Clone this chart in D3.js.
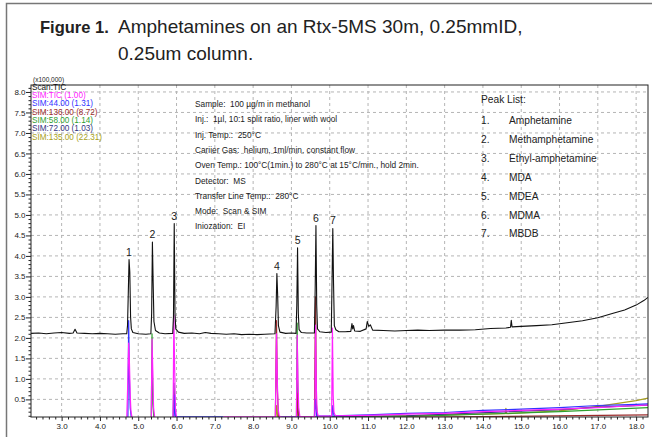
<!DOCTYPE html>
<html>
<head>
<meta charset="utf-8">
<script src="https://cdn.jsdelivr.net/npm/d3@7"></script>
<style>
  body { margin: 0; background: #fff; }
  svg { display: block; font-family: "Liberation Sans", Arial, sans-serif; }
</style>
</head>
<body>
<svg class="chromatogram" width="652" height="437"></svg>
<script>
// retention time (min) / intensity (x100,000)
const scanTic = [
  [2.20, 2.11], [2.40, 2.12], [2.60, 2.10], [2.80, 2.12], [3.00, 2.13], [3.20, 2.11],
  [3.30, 2.12], [3.35, 2.21], [3.40, 2.12], [3.60, 2.11], [3.80, 2.10], [4.00, 2.11],
  [4.20, 2.10], [4.40, 2.09], [4.60, 2.10], [4.70, 2.10], [4.72, 2.30], [4.74, 3.08],
  [4.76, 3.91], [4.78, 3.60], [4.80, 2.51], [4.82, 2.22], [4.86, 2.13], [5.00, 2.10],
  [5.20, 2.09], [5.33, 2.10], [5.35, 2.60], [5.37, 4.34], [5.39, 3.33], [5.41, 2.40],
  [5.45, 2.18], [5.55, 2.12], [5.70, 2.10], [5.90, 2.11], [5.92, 2.52], [5.94, 4.79],
  [5.96, 2.60], [5.98, 2.22], [6.05, 2.14], [6.20, 2.11], [6.40, 2.12], [6.60, 2.10],
  [6.75, 2.13], [6.90, 2.11], [7.10, 2.10], [7.30, 2.09], [7.50, 2.10], [7.70, 2.08],
  [7.90, 2.09], [8.10, 2.08], [8.30, 2.09], [8.57, 2.10], [8.60, 2.76], [8.62, 3.57],
  [8.64, 3.05], [8.66, 2.30], [8.70, 2.14], [8.85, 2.11], [9.00, 2.12], [9.12, 2.11],
  [9.14, 2.80], [9.16, 4.20], [9.18, 2.60], [9.20, 2.20], [9.26, 2.13], [9.40, 2.12],
  [9.60, 2.12], [9.62, 3.20], [9.64, 4.74], [9.66, 2.80], [9.68, 2.22], [9.74, 2.15],
  [9.90, 2.13], [10.04, 2.14], [10.06, 3.36], [10.08, 4.67], [10.10, 3.30], [10.12, 2.30],
  [10.16, 2.20], [10.24, 2.15], [10.40, 2.15], [10.55, 2.16], [10.58, 2.35], [10.60, 2.22],
  [10.62, 2.30], [10.65, 2.17], [10.80, 2.16], [10.95, 2.22], [10.98, 2.40], [11.02, 2.28],
  [11.06, 2.32], [11.12, 2.19], [11.40, 2.18], [11.70, 2.17], [12.00, 2.18], [12.30, 2.19],
  [12.60, 2.18], [13.00, 2.19], [13.40, 2.19], [13.80, 2.20], [14.20, 2.23], [14.60, 2.24],
  [14.72, 2.26], [14.74, 2.43], [14.76, 2.27], [15.00, 2.28], [15.40, 2.30], [15.80, 2.32],
  [16.20, 2.37], [16.60, 2.42], [17.00, 2.49], [17.40, 2.60], [17.70, 2.68], [18.00, 2.80],
  [18.20, 2.91], [18.31, 2.99]
];

const simTic = [
  [2.20, 0.05], [4.70, 0.05], [4.73, 1.00], [4.75, 1.87], [4.77, 1.40], [4.79, 0.60],
  [4.81, 0.20], [4.84, 0.05], [5.34, 0.05], [5.36, 1.97], [5.38, 1.20], [5.40, 0.30],
  [5.43, 0.05], [5.91, 0.05], [5.93, 2.56], [5.95, 1.30], [5.97, 0.30], [6.00, 0.05],
  [7.20, 0.05], [7.25, 0.075], [8.58, 0.075], [8.61, 2.10], [8.63, 1.00], [8.65, 0.30],
  [8.68, 0.10], [8.72, 0.07], [9.13, 0.07], [9.15, 2.07], [9.17, 1.00], [9.19, 0.30],
  [9.22, 0.08], [9.61, 0.08], [9.63, 2.31], [9.65, 0.80], [9.67, 0.20], [9.70, 0.09],
  [10.05, 0.09], [10.07, 2.24], [10.09, 0.60], [10.11, 0.18], [10.15, 0.10], [11.00, 0.11],
  [12.00, 0.14], [13.00, 0.16], [14.00, 0.20], [15.00, 0.23], [16.00, 0.26], [17.00, 0.30],
  [18.00, 0.35], [18.31, 0.36]
];

const sim44 = [
  [2.20, 0.04], [4.73, 0.04], [4.75, 2.42], [4.77, 1.00], [4.79, 0.30], [4.82, 0.04],
  [5.93, 0.04], [5.95, 0.60], [5.97, 0.10], [6.00, 0.075], [7.20, 0.075], [7.25, 0.05],
  [8.70, 0.05], [8.75, 0.075], [9.60, 0.08], [9.63, 0.50], [9.66, 0.09], [10.06, 0.09],
  [10.08, 0.35], [10.11, 0.10], [11.00, 0.12], [12.00, 0.16], [13.00, 0.18], [14.00, 0.23],
  [15.00, 0.26], [16.00, 0.30], [17.00, 0.35], [18.00, 0.38], [18.31, 0.39]
];

const sim136 = [
  [2.20, 0.03], [8.58, 0.03], [8.61, 2.42], [8.63, 0.80], [8.66, 0.10], [8.70, 0.03],
  [9.14, 0.03], [9.16, 0.65], [9.18, 0.10], [9.21, 0.03], [9.60, 0.03], [9.63, 3.00],
  [9.65, 0.40], [9.68, 0.03], [12.00, 0.06], [18.31, 0.12]
];

const sim58 = [
  [2.20, 0.03], [5.34, 0.03], [5.36, 2.10], [5.38, 0.40], [5.41, 0.03], [9.13, 0.03],
  [9.15, 2.36], [9.17, 0.30], [9.20, 0.03], [12.00, 0.08], [16.00, 0.20], [18.31, 0.30]
];

const sim72 = [
  [2.20, 0.03], [5.91, 0.03], [5.93, 0.90], [5.95, 0.30], [5.98, 0.03], [12.00, 0.10],
  [16.00, 0.25], [17.00, 0.31], [18.31, 0.36]
];

const sim135 = [
  [2.20, 0.03], [8.59, 0.03], [8.61, 0.35], [8.64, 0.05], [11.00, 0.08], [12.00, 0.10],
  [13.00, 0.12], [14.00, 0.14], [14.58, 0.15], [14.60, 0.28], [14.62, 0.15], [15.00, 0.17],
  [16.00, 0.22], [17.00, 0.33], [18.00, 0.47], [18.31, 0.53]
];

const traceNames = ['Scan:TIC', 'SIM:TIC (1.00)', 'SIM:44.00 (1.31)', 'SIM:136.00 (8.72)',
  'SIM:58.00 (1.14)', 'SIM:72.00 (1.03)', 'SIM:135.00 (22.31)'];
const traceColors = ['#111111', '#ff22ff', '#3333ff', '#9b2c2c', '#2fa02f', '#33337f', '#a8a020'];

const peakTimes = [4.76, 5.37, 5.94, 8.62, 9.16, 9.64, 10.08];
const peakNames = ['Amphetamine', 'Methamphetamine', 'Ethyl-amphetamine', 'MDA', 'MDEA', 'MDMA', 'MBDB'];

const conditions = [
  'Sample:  100 \u00b5g/m in methanol',
  'Inj.:  1\u00b5l, 10:1 split ratio, liner with wool',
  'Inj. Temp.:  250\u00b0C',
  'Cariier Gas:  helium, 1ml/min. constant flow',
  'Oven Temp.: 100\u00b0C(1min.) to 280\u00b0C at 15\u00b0C/min., hold 2min.',
  'Detector:  MS',
  'Transfer Line Temp.:  280\u00b0C',
  'Mode:  Scan & SIM',
  'Iniozation:  EI'
];

const xTicks = d3.range(3, 19, 1);
const yTicks = d3.range(1, 17).map(k => k / 2);

const svg = d3.select('.chromatogram');
const margin = { top: 85, right: 4, bottom: 20, left: 31 };
const width = +svg.attr('width');
const height = +svg.attr('height');
const innerWidth = width - margin.left - margin.right;
const innerHeight = height - margin.top - margin.bottom;

// page frame (top and left edges only, like the scan)
svg.append('path')
  .attr('d', 'M6.5,437 V3.5 H652')
  .attr('fill', 'none')
  .attr('stroke', '#777')
  .attr('stroke-width', 1.5);

svg.append('text')
  .attr('x', 40).attr('y', 33)
  .style('font-size', '16.5px').style('font-weight', 'bold').attr('fill', '#222')
  .text('Figure 1.');
svg.append('text')
  .attr('x', 118).attr('y', 33)
  .style('font-size', '19px').attr('fill', '#222')
  .text('Amphetamines on an Rtx-5MS 30m, 0.25mmID,');
svg.append('text')
  .attr('x', 118).attr('y', 60)
  .style('font-size', '19px').attr('fill', '#222')
  .text('0.25um column.');

const xScale = d3.scaleLinear().domain([2.2, 18.31]).range([0, innerWidth]);
const yScale = d3.scaleLinear().domain([0.07, 8.17]).range([innerHeight, 0]);

const g = svg.append('g')
  .attr('transform', `translate(${margin.left}, ${margin.top})`);

g.append('text')
  .attr('x', 2).attr('y', -3)
  .style('font-size', '6.5px').attr('fill', '#222')
  .text('(x100,000)');

// dashed grid
g.append('g')
  .selectAll('line')
  .data(xTicks)
  .join('line')
  .attr('x1', d => xScale(d)).attr('x2', d => xScale(d))
  .attr('y1', 0).attr('y2', innerHeight)
  .attr('stroke', '#b5b5b5').attr('stroke-dasharray', '3,3');

g.append('g')
  .selectAll('line')
  .data(yTicks)
  .join('line')
  .attr('y1', d => yScale(d)).attr('y2', d => yScale(d))
  .attr('x1', 0).attr('x2', innerWidth)
  .attr('stroke', '#b5b5b5').attr('stroke-dasharray', '3,3');

g.append('clipPath').attr('id', 'plotClip')
  .append('rect').attr('width', innerWidth).attr('height', innerHeight);

const line = d3.line()
  .x(d => xScale(d[0]))
  .y(d => yScale(d[1]));

const traces = [scanTic, simTic, sim44, sim136, sim58, sim72, sim135];
// SIM traces first, scan TIC on top
const drawOrder = [6, 5, 4, 3, 2, 1, 0];

g.append('g')
  .attr('clip-path', 'url(#plotClip)')
  .selectAll('path')
  .data(drawOrder)
  .join('path')
  .attr('d', i => line(traces[i]))
  .attr('fill', 'none')
  .attr('stroke', i => traceColors[i])
  .attr('stroke-width', i => i === 0 ? 1.1 : 1.2)
  .attr('stroke-linejoin', 'round');

// frame of plot
g.append('rect')
  .attr('width', innerWidth).attr('height', innerHeight)
  .attr('fill', 'none').attr('stroke', '#222');

// minor ticks: 10 s on time axis, 0.1 on intensity
const xMinor = d3.range(14, 110).filter(k => k % 6 !== 0).map(k => k / 6).filter(v => v <= 18.31);
const yMinor = d3.range(1, 82).filter(k => k % 5 !== 0).map(k => k / 10);

g.append('g')
  .attr('transform', `translate(0, ${innerHeight})`)
  .call(d3.axisBottom(xScale).tickValues(xMinor).tickSize(2.5).tickFormat(''))
  .call(a => a.select('.domain').remove());

g.append('g')
  .call(d3.axisLeft(yScale).tickValues(yMinor).tickSize(2.5).tickFormat(''))
  .call(a => a.select('.domain').remove());

g.append('g')
  .attr('transform', `translate(0, ${innerHeight})`)
  .style('font-size', '8px')
  .call(d3.axisBottom(xScale).tickValues(xTicks).tickSize(4).tickPadding(2.5).tickFormat(d3.format('.1f')))
  .call(a => a.select('.domain').remove());

g.append('g')
  .style('font-size', '8px')
  .call(d3.axisLeft(yScale).tickValues(yTicks).tickSize(5).tickPadding(0.5).tickFormat(d3.format('.1f')))
  .call(a => a.select('.domain').remove());

g.selectAll('.tick text').attr('fill', '#222').style('font-family', '"Liberation Sans", Arial, sans-serif');
g.selectAll('.tick line').attr('stroke', '#222');

// trace legend
g.append('g')
  .selectAll('text')
  .data(traceNames)
  .join('text')
  .attr('x', 1)
  .attr('y', (d, i) => 4.7 + i * 8.3)
  .style('font-size', '8.2px')
  .attr('fill', (d, i) => traceColors[i])
  .text(d => d);

// peak numbers
g.append('g')
  .selectAll('text')
  .data(peakTimes)
  .join('text')
  .attr('x', d => xScale(d))
  .attr('y', d => {
    const apex = d3.min(scanTic.filter(p => Math.abs(p[0] - d) < 0.015), p => yScale(p[1]));
    return apex - 4;
  })
  .attr('text-anchor', 'middle')
  .style('font-size', '10.5px')
  .attr('fill', '#222')
  .text((d, i) => i + 1);

// method conditions
g.append('g')
  .selectAll('text')
  .data(conditions)
  .join('text')
  .attr('x', 164)
  .attr('y', (d, i) => 22 + i * 15.3)
  .style('font-size', '8.3px')
  .style('white-space', 'pre')
  .attr('fill', '#222')
  .text(d => d);

// peak list
const peakList = g.append('g').attr('transform', 'translate(450, 0)').attr('fill', '#222');
peakList.append('text')
  .attr('x', 0).attr('y', 17.5)
  .style('font-size', '10.2px')
  .text('Peak List:');
const rows = peakList.selectAll('g.row')
  .data(peakNames)
  .join('g')
  .attr('class', 'row')
  .attr('transform', (d, i) => `translate(0, ${39 + i * 18.9})`)
  .style('font-size', '10.2px');
rows.append('text').text((d, i) => `${i + 1}.`);
rows.append('text').attr('x', 28).text(d => d);
</script>
</body>
</html>
